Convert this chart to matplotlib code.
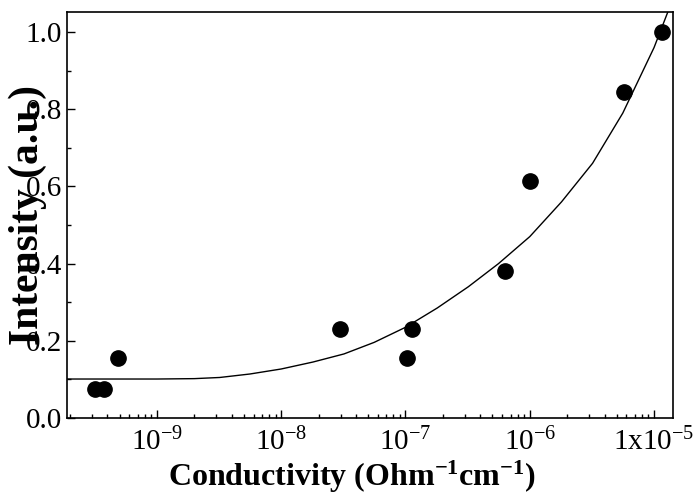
import numpy as np
import matplotlib.pyplot as plt
from matplotlib.ticker import FixedLocator, FixedFormatter, LogLocator, MultipleLocator, NullFormatter

plt.rcParams['font.family'] = ['Liberation Serif', 'DejaVu Serif']
plt.rcParams['mathtext.default'] = 'regular'

# measured points
cond = [3.2e-10, 3.75e-10, 4.85e-10, 2.96e-8, 1.03e-7, 1.13e-7, 6.3e-7, 1.0e-6, 5.7e-6, 1.16e-5]
intensity = [0.075, 0.075, 0.155, 0.23, 0.155, 0.23, 0.38, 0.615, 0.845, 1.0]

# fitted curve
fit_x = [1.9e-10, 1e-9, 2e-9, 3.2e-9, 5.6e-9, 1e-8, 1.8e-8, 3.2e-8, 5.6e-8, 1e-7,
         1.8e-7, 3.2e-7, 5.6e-7, 1e-6, 1.8e-6, 3.2e-6, 5.6e-6, 1e-5, 1.29e-5]
fit_y = [0.101, 0.101, 0.102, 0.105, 0.114, 0.127, 0.145, 0.166, 0.196, 0.235,
         0.285, 0.34, 0.40, 0.47, 0.56, 0.66, 0.79, 0.96, 1.052]

tick_pos = [1e-9, 1e-8, 1e-7, 1e-6, 1e-5]
tick_lab = ['$10^{-9}$', '$10^{-8}$', '$10^{-7}$', '$10^{-6}$', '$1x10^{-5}$']

fig = plt.figure(figsize=(6.94, 4.97), dpi=100)
ax = fig.add_axes([67/694, 1-418/497, 606/694, 406/497])

ax.plot(fit_x, fit_y, color='black', lw=1.0)
ax.plot(cond, intensity, 'o', color='black', ms=11, mec='black')

ax.set_xscale('log')
ax.set_xlim(1.89e-10, 1.42e-5)
ax.set_ylim(0, 1.052)

ax.xaxis.set_major_locator(FixedLocator(tick_pos))
ax.xaxis.set_major_formatter(FixedFormatter(tick_lab))
ax.xaxis.set_minor_locator(LogLocator(base=10, subs=np.arange(2, 10)))
ax.xaxis.set_minor_formatter(NullFormatter())
ax.yaxis.set_major_locator(MultipleLocator(0.2))
ax.yaxis.set_minor_locator(MultipleLocator(0.1))
ax.yaxis.set_major_formatter(lambda v, p: f'{v:.1f}')

ax.tick_params(which='both', direction='in', top=False, right=False, labelsize=21, width=1.0)
ax.tick_params(which='major', length=6)
ax.tick_params(which='minor', length=3)
ax.tick_params(axis='x', pad=7)
for s in ax.spines.values():
    s.set_linewidth(1.2)

ax.set_xlabel('Conductivity (Ohm$^{-1}$cm$^{-1}$)', fontsize=23, fontweight='bold')
ax.set_ylabel('Intensity (a.u.)', fontsize=30, fontweight='bold')
ax.xaxis.set_label_coords(0.47, -0.10)
ax.yaxis.set_label_coords(-0.033, 0.5)

fig.savefig('out.png', dpi=100)
